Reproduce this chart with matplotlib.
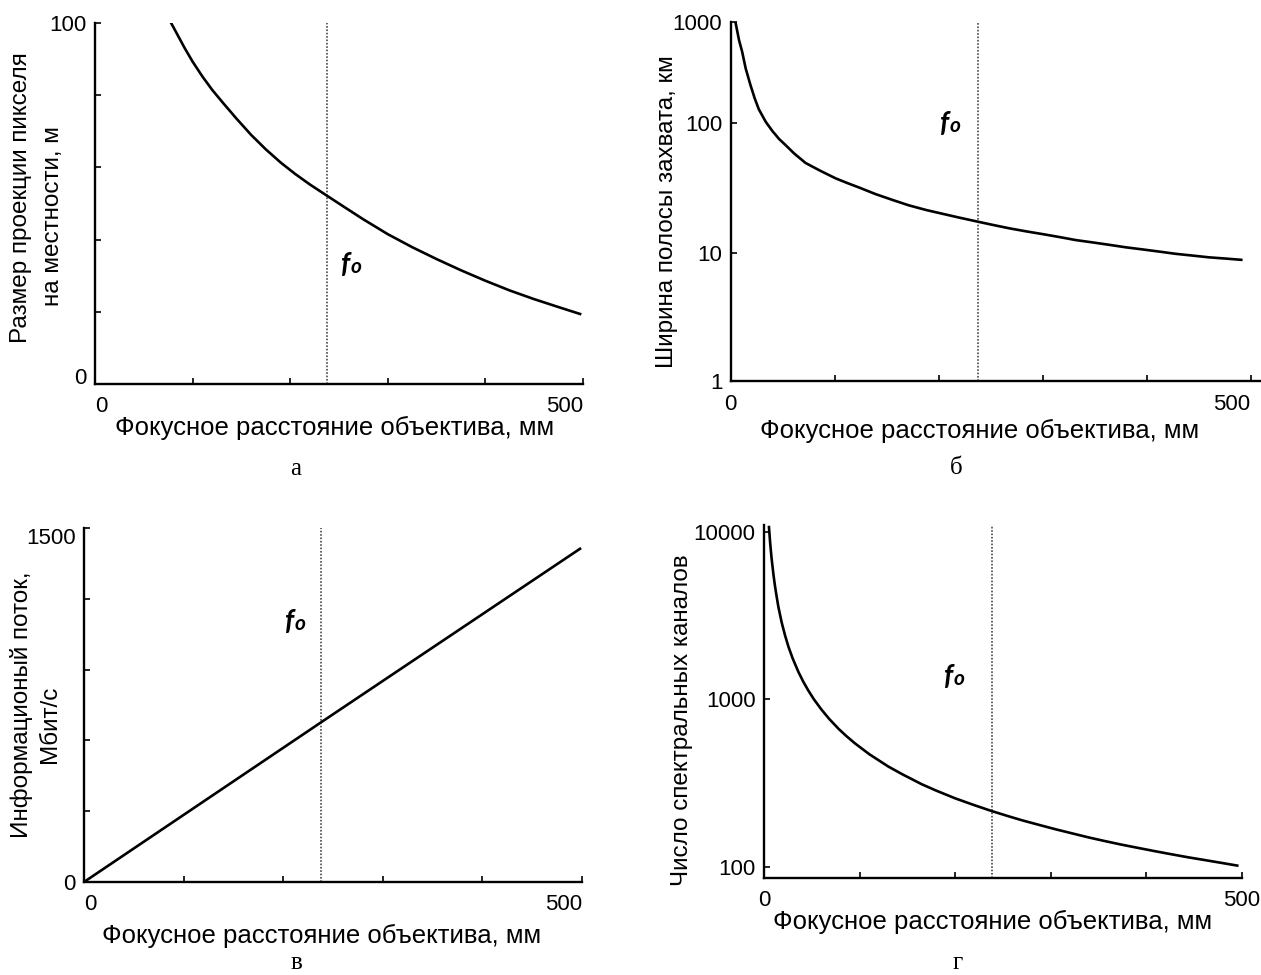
import numpy as np
import matplotlib
matplotlib.use("Agg")
import matplotlib.pyplot as plt
from matplotlib.ticker import NullLocator

plt.rcParams['font.family'] = ['Liberation Sans', 'DejaVu Sans']

# ---------------- data ----------------
F0 = 238  # focal distance f0, mm

# (a) ground pixel size, m
a_x = [78, 85, 92, 100, 110, 120, 132, 145, 160, 175, 190, 205, 220, 238,
       255, 275, 300, 325, 350, 375, 400, 425, 450, 475, 497]
a_y = [100, 96.5, 93.0, 89.3, 85.2, 81.5, 77.6, 73.5, 69.0, 65.0, 61.4, 58.2,
       55.3, 52.1, 49.1, 45.6, 41.5, 37.9, 34.6, 31.5, 28.6, 25.9, 23.5, 21.3,
       19.4]

# (б) swath width, km
b_x = [4.5, 6.4, 8, 11, 14.4, 19, 23.1, 27, 33.7, 40, 46.5, 53, 60.9, 72,
       86.6, 101, 112.3, 124, 139.5, 156, 171.6, 188, 204, 220, 238, 253, 268,
       284, 300, 316, 332, 348, 364, 380, 396, 412, 428, 444, 460, 476, 491]
b_y = [1000, 796, 658, 505, 345, 236, 174, 136, 102, 86.5, 75, 67, 58.1, 49,
       42.5, 37.3, 34.3, 31.6, 28.2, 25.4, 23.1, 21.3, 19.9, 18.6, 17.3, 16.3,
       15.4, 14.6, 13.9, 13.2, 12.5, 12.0, 11.5, 11.0, 10.6, 10.2, 9.8, 9.5,
       9.2, 9.0, 8.8]

# (в) information flow, Mbit/s
c_x = [0, 238.5, 498]
c_y = [0, 678, 1412]

# (г) number of spectral channels
d_x = [5.2, 6.5, 8, 10, 11.5, 13, 15, 18.5, 22, 25.5, 30, 36, 41, 46, 52, 60,
       68, 78, 86, 95, 110, 130, 145, 165, 180, 200, 220, 238, 255, 270, 290,
       305, 320, 340, 355, 374, 390, 409, 425, 444, 460, 480, 495]
d_y = [10690, 8520, 6900, 5500, 4750, 4190, 3580, 2880, 2415, 2070, 1757,
       1460, 1280, 1140, 1006, 872, 768, 668, 606, 548, 472, 398, 357, 312,
       286, 257, 234, 216, 201.5, 190, 177, 168, 160, 150, 143.5, 136, 130.5,
       124.3, 119.5, 114.2, 110.3, 105.5, 102]

x_ticks = [0, 100, 200, 300, 400, 500]
x_ticklabels = ['0', '', '', '', '', '500']

xlabel = 'Фокусное расстояние объектива, мм'
a_ylabel = ['Размер проекции пикселя', 'на местности, м']
b_ylabel = 'Ширина полосы захвата, км'
c_ylabel = ['Информационый поток,', 'Мбит/с']
d_ylabel = 'Число спектральных каналов'
panel_letters = ['а', 'б', 'в', 'г']

a_yticks = [0, 20, 40, 60, 80, 100]
a_yticklabels = ['0', '', '', '', '', '100']
b_yticks = [1, 10, 100, 1000]
b_yticklabels = ['1', '10', '100', '1000']
c_yticks = [0, 300, 600, 900, 1200, 1500]
c_yticklabels = ['0', '', '', '', '', '1500']
d_yticks = [100, 1000, 10000]
d_yticklabels = ['100', '1000', '10000']

# ---------------- figure ----------------
W, H = 1261, 975
fig = plt.figure(figsize=(W / 100, H / 100), dpi=100)


def axes_px(l, r, t, b):
    return fig.add_axes([l / W, 1 - b / H, (r - l) / W, (b - t) / H])


def ftxt(x, y, s, **kw):
    fig.text(x / W, 1 - y / H, s, **kw)


TICK_FS = 16
XLAB_FS = 18.5
YLAB_FS = 17.5
LW = 1.9


def style(ax, xlim):
    for s in ['top', 'right']:
        ax.spines[s].set_visible(False)
    for s in ['left', 'bottom']:
        ax.spines[s].set_linewidth(1.7)
    ax.set_xlim(*xlim)
    ax.set_xticks(x_ticks)
    ax.set_xticklabels(x_ticklabels)
    ax.tick_params(direction='in', length=4, width=1.2, labelsize=TICK_FS)
    ax.tick_params(axis='x', pad=9)
    ax.tick_params(axis='y', pad=6)
    ax.axvline(F0, color='#3a3a3a', lw=1.1, ls=(0, (1.1, 1.1)), zorder=1)


FFAM = ['Lato', 'Open Sans', 'DejaVu Sans']


def f0_label(ax, x, y):
    t = ax.text(x, y, 'f', fontsize=20, fontstyle='italic', fontweight='bold',
                family=FFAM, ha='left', va='center')
    ax.annotate('o', xy=(1, 0), xycoords=t, xytext=(0.3, 0.8),
                textcoords='offset points', fontsize=15, fontstyle='italic',
                fontweight='bold', family=FFAM, ha='left', va='bottom')


# ---- (a)
axA = axes_px(95, 583, 23, 384)
style(axA, (0, 500))
axA.plot(a_x, a_y, color='black', lw=LW)
axA.set_ylim(0, 100)
axA.set_yticks(a_yticks)
axA.set_yticklabels(a_yticklabels)
xl = axA.get_xticklabels()
xl[0].set_ha('left')
xl[-1].set_ha('right')
axA.get_yticklabels()[0].set_va('baseline')
f0_label(axA, 252, 33)

# ---- (б) log axis with the decade spacing of the original drawing
B_LOG = [-1, 0, 1, 2, 3, 4]
B_POS = [-128.3, 0, 128.3, 258.3, 359.3, 460.0]


def b_fwd(y):
    return np.interp(np.log10(np.maximum(y, 1e-6)), B_LOG, B_POS)


def b_inv(p):
    return 10 ** np.interp(p, B_POS, B_LOG)


axB = axes_px(730.7, 1261, 21.7, 381)
style(axB, (0, 510))
axB.set_yscale('function', functions=(b_fwd, b_inv))
axB.plot(b_x, b_y, color='black', lw=LW)
axB.set_ylim(1, 1000)
axB.set_yticks(b_yticks)
axB.set_yticklabels(b_yticklabels)
axB.yaxis.set_minor_locator(NullLocator())
xl = axB.get_xticklabels()
xl[-1].set_ha('right')
f0_label(axB, 201, 98)

# ---- (в)
axC = axes_px(84, 582, 528, 882)
style(axC, (0, 500))
axC.plot(c_x, c_y, color='black', lw=LW)
axC.set_ylim(0, 1500)
axC.set_yticks(c_yticks)
axC.set_yticklabels(c_yticklabels)
xl = axC.get_xticklabels()
xl[0].set_ha('left')
xl[-1].set_ha('right')
axC.get_yticklabels()[-1].set_va('top')
f0_label(axC, 202, 1103)

# ---- (г)
axD = axes_px(764, 1242, 525, 878)
style(axD, (0, 500))
axD.set_yscale('log')
axD.plot(d_x, d_y, color='black', lw=LW)
axD.set_ylim(86, 11000)
axD.set_yticks(d_yticks)
axD.set_yticklabels(d_yticklabels)
axD.yaxis.set_minor_locator(NullLocator())
f0_label(axD, 188, 1368)

# ---------------- texts ----------------
ftxt(21, 198, a_ylabel[0], rotation=90, ha='center', va='center', fontsize=YLAB_FS)
ftxt(53.5, 216, a_ylabel[1], rotation=90, ha='center', va='center', fontsize=YLAB_FS)
ftxt(667, 212, b_ylabel, rotation=90, ha='center', va='center', fontsize=YLAB_FS)
ftxt(21.6, 705, c_ylabel[0], rotation=90, ha='center', va='center', fontsize=YLAB_FS)
ftxt(50, 724, c_ylabel[1], rotation=90, ha='center', va='center', fontsize=YLAB_FS)
ftxt(682, 720, d_ylabel, rotation=90, ha='center', va='center', fontsize=YLAB_FS)

ftxt(335, 428, xlabel, ha='center', va='center', fontsize=XLAB_FS)
ftxt(980, 431, xlabel, ha='center', va='center', fontsize=XLAB_FS)
ftxt(322, 936, xlabel, ha='center', va='center', fontsize=XLAB_FS)
ftxt(993, 922, xlabel, ha='center', va='center', fontsize=XLAB_FS)

serif = ['Liberation Serif', 'DejaVu Serif']
ftxt(296, 469, panel_letters[0], ha='center', va='center', fontsize=18, family=serif)
ftxt(956, 468, panel_letters[1], ha='center', va='center', fontsize=18, family=serif)
ftxt(296, 974, panel_letters[2], ha='center', va='bottom', fontsize=18, family=serif)
ftxt(958, 974, panel_letters[3], ha='center', va='bottom', fontsize=18, family=serif)

fig.savefig('out.png', dpi=100, facecolor='white')
